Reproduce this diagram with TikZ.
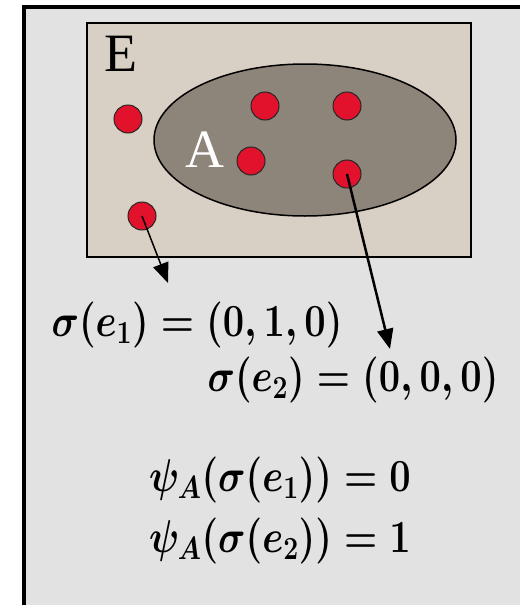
\documentclass[tikz,border=0pt]{standalone}
\usepackage{fix-cm}
\usepackage{fontspec}
\newfontfamily\timesfont{Liberation Serif}
\usetikzlibrary{arrows.meta,positioning,shapes.geometric}
\definecolor{paper}{HTML}{E2E2E2}
\definecolor{sand}{HTML}{D8D0C4}
\definecolor{mud}{HTML}{8D847A}
\definecolor{dotred}{HTML}{E3122C}
\tikzset{
  elem/.style={draw=black!85,circle,fill=dotred,minimum size=28pt,inner sep=0pt,line width=1pt},
  setlbl/.style={font=\timesfont\fontsize{54}{60}\selectfont,inner sep=0pt},
  eqn/.style={font=\fontsize{40}{48}\selectfont\boldmath,inner sep=0pt,xscale=0.95,yscale=1.15,transform shape},
  map/.style={-{Triangle[length=20pt,width=16pt]},black}
}

\begin{document}
\begin{tikzpicture}[x=1pt,y=-1pt]
\useasboundingbox (0,0) rectangle (520,605);
\fill[white] (0,0) rectangle (520,605);
\fill[paper] (24,7) rectangle (520,605);
\draw[line width=4pt] (24,605) -- (24,7) -- (520,7);
% the sample space E and the event A
\draw[fill=sand,line width=2pt] (87,23) rectangle (471,257);
\draw[fill=mud,line width=1.5pt] (305,140) ellipse [x radius=151, y radius=76];
\node[setlbl] (E) at (121,54) {E};
\node[setlbl,text=white] (A) at (205,150) {A};
% elements
\node[elem] (p1) at (128,119) {};
\node[elem] (p2) at (265,106) {};
\node[elem] (p3) at (347,106) {};
\node[elem] (p4) at (251,161) {};
\node[elem] (e2) at (347,174) {};
\node[elem] (e1) at (142,216) {};
% labels
\node[eqn] (s1) at (197,325) {$\sigma(e_1)=(0,1,0)$};
\node[eqn] (s2) at (353,380) {$\sigma(e_2)=(0,0,0)$};
\node[eqn] (f1) at (280,480) {$\psi_A(\sigma(e_1))=0$};
\node[eqn] (f2) at (280,541) {$\psi_A(\sigma(e_2))=1$};
\coordinate (t1) at (168,283);
\coordinate (t2) at (390,349);
\draw[map,line width=1.5pt] (e1.center) -- (t1);
\draw[map,line width=2.5pt] (e2.center) -- (t2);
\end{tikzpicture}
\end{document}
